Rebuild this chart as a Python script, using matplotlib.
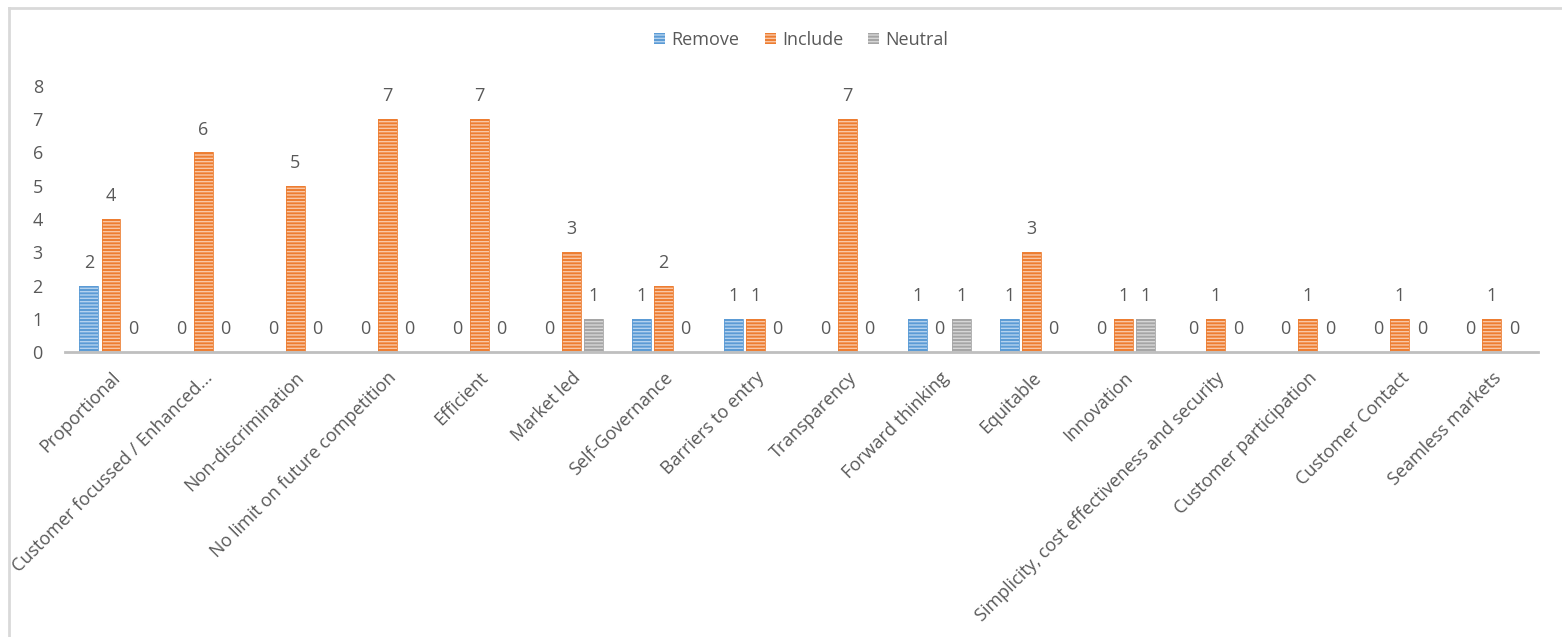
import matplotlib
matplotlib.use("Agg")
import matplotlib.pyplot as plt
import numpy as np
from matplotlib.patches import Patch
from matplotlib.lines import Line2D

categories = [
    "Proportional", "Customer focussed / Enhanced...", "Non-discrimination",
    "No limit on future competition", "Efficient", "Market led", "Self-Governance",
    "Barriers to entry", "Transparency", "Forward thinking", "Equitable", "Innovation",
    "Simplicity, cost effectiveness and security", "Customer participation",
    "Customer Contact", "Seamless markets",
]
remove = [2, 0, 0, 0, 0, 0, 1, 1, 0, 1, 1, 0, 0, 0, 0, 0]
include = [4, 6, 5, 7, 7, 3, 2, 1, 7, 0, 3, 1, 1, 1, 1, 1]
neutral = [0, 0, 0, 0, 0, 1, 0, 0, 0, 1, 0, 1, 0, 0, 0, 0]
series_names = ["Remove", "Include", "Neutral"]
y_ticks = [0, 1, 2, 3, 4, 5, 6, 7, 8]

plt.rcParams["font.family"] = ["Open Sans", "DejaVu Sans"]
plt.rcParams["hatch.linewidth"] = 1.0

text_color = "#595959"
face_colors = ["#5B9BD5", "#ED7D31", "#A5A5A5"]
stripe_colors = ["#B4D2EE", "#F9C7A6", "#D6D6D6"]
fs = 13

fig = plt.figure(figsize=(15.62, 6.37), dpi=100)
ax = fig.add_axes([0.0416, 0.4474, 0.943, 0.4176])

x = np.arange(len(categories))
width = 0.205
offsets = [-0.24, 0.0, 0.24]
series = [remove, include, neutral]

for vals, off, fc, sc, name in zip(series, offsets, face_colors, stripe_colors, series_names):
    ax.bar(x + off, vals, width, color=fc, edgecolor=sc, hatch="-----", linewidth=0)
    ax.bar(x + off, vals, width, facecolor="none", edgecolor=fc, linewidth=0.6)
    for xi, v in zip(x + off, vals):
        ax.annotate(str(v), (xi, v), xytext=(0, 10), textcoords="offset points",
                    ha="center", va="bottom", fontsize=fs, color=text_color,
                    annotation_clip=False)

ax.set_xlim(-0.5, len(categories) - 0.5)
ax.set_ylim(0, 8)
ax.set_yticks(y_ticks)
ax.set_yticklabels([str(t) for t in y_ticks], fontsize=fs, color=text_color)
ax.set_xticks(x)
ax.set_xticklabels(categories, rotation=45, ha="right", rotation_mode="anchor",
                   fontsize=fs, color=text_color)
ax.tick_params(axis="both", length=0)
ax.tick_params(axis="x", pad=12)
ax.tick_params(axis="y", pad=16)

for s in ["top", "right", "left"]:
    ax.spines[s].set_visible(False)
ax.spines["bottom"].set_color("#BFBFBF")
ax.spines["bottom"].set_linewidth(2.0)

handles = [Patch(facecolor=fc, edgecolor=sc, hatch="-----", linewidth=0)
           for fc, sc in zip(face_colors, stripe_colors)]
fig.legend(handles, series_names, loc="center", bbox_to_anchor=(0.513, 0.937),
           ncol=3, frameon=False, fontsize=fs, labelcolor=text_color,
           handlelength=0.6, handleheight=0.6, handletextpad=0.35, columnspacing=1.4)

# chart-area frame
bx0 = 9 / 1562
by1 = 1 - 8 / 637
fig.add_artist(Line2D([bx0, bx0], [-0.1, by1], transform=fig.transFigure,
                      color="#D9D9D9", linewidth=2))
fig.add_artist(Line2D([bx0, 1.1], [by1, by1], transform=fig.transFigure,
                      color="#D9D9D9", linewidth=2))

fig.savefig("out.png", dpi=100, facecolor="white")
